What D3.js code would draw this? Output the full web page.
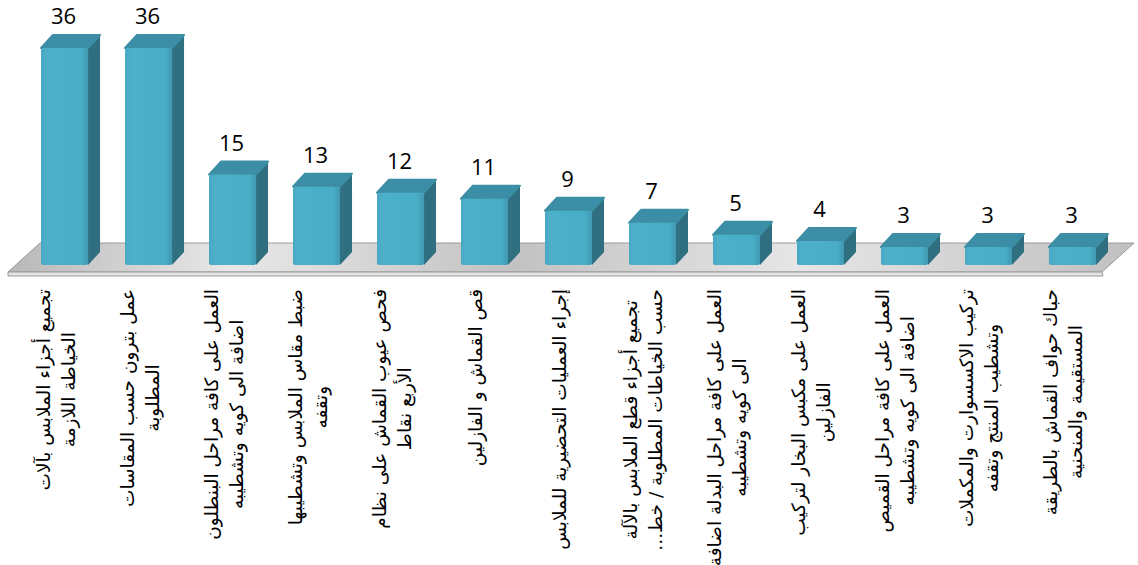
<!DOCTYPE html>
<html>
<head>
<meta charset="utf-8">
<script src="https://cdnjs.cloudflare.com/ajax/libs/d3/7.8.5/d3.min.js"></script>
<style>
  body { margin: 0; background: #fff; }
  svg { display: block; }
</style>
</head>
<body>
<svg width="1138" height="565"></svg>
<script>
const svg = d3.select('svg');
const width = +svg.attr('width');
const height = +svg.attr('height');

// data
const categories = [
  'تجميع أجزاء الملابس بآلات|الخياطة اللازمة',
  'عمل بترون حسب المقاسات|المطلوبة',
  'العمل على كافة مراحل البنطلون|اضافة الى كويه وتشطيبه',
  'ضبط مقاس الملابس وتشطيبها|وتقفه',
  'فحص عيوب القماش على نظام|الأربع نقاط',
  'قص القماش و الفازلين',
  'إجراء العمليات التحضيرية للملابس',
  'تجميع أجزاء قطع الملابس بالآلة|حسب الخياطات المطلوبة / خط...',
  'العمل على كافة مراحل البدلة اضافة|الى كويه وتشطيبه',
  'العمل على مكبس البخار لتركيب|الفازلين',
  'العمل على كافة مراحل القميص|اضافة الى كويه وتشطيبه',
  'تركيب الاكسسوارت والمكملات|وتشطيب المنتج وتقفه',
  'حباك حواف القماش بالطريقة|المستقيمة والمنحنية'
];
const values = [36, 36, 15, 13, 12, 11, 9, 7, 5, 4, 3, 3, 3];

// 3d depth of bars and floor
const dx = 12, dy = -13;
const floorDx = 32, floorDy = -29;
const base = 265;

const x = d3.scaleBand()
  .domain(d3.range(values.length))
  .range([41, 1096])
  .paddingInner(0.44)
  .paddingOuter(0);

const y = d3.scaleLinear()
  .domain([0, 36])
  .range([base, 48]);

const defs = svg.append('defs');

const floorGrad = defs.append('linearGradient')
  .attr('id', 'floorGrad')
  .attr('x1', 0).attr('y1', 0).attr('x2', 1).attr('y2', 0);
[[0, '#b8b8b8'], [0.2, '#e8e8e8'], [0.45, '#c2c2c2'], [0.7, '#e6e6e6'], [1, '#c0c0c0']]
  .forEach(s => floorGrad.append('stop').attr('offset', s[0]).attr('stop-color', s[1]));

const frontGrad = defs.append('linearGradient')
  .attr('id', 'frontGrad')
  .attr('x1', 0).attr('y1', 0).attr('x2', 1).attr('y2', 0);
[[0, '#4aa9c2'], [0.15, '#4db0ca'], [0.85, '#4aadc7'], [1, '#3f98b0']]
  .forEach(s => frontGrad.append('stop').attr('offset', s[0]).attr('stop-color', s[1]));

// floor
const fx0 = x.range()[0] - 33;
const fx1 = x.range()[1] + 6;
const fy = 272;

svg.append('polygon')
  .attr('points', [
    [fx0, fy], [fx1, fy], [fx1 + floorDx, fy + floorDy], [fx0 + floorDx, fy + floorDy]
  ].map(p => p.join(',')).join(' '))
  .attr('fill', 'url(#floorGrad)')
  .attr('stroke', '#9a9a9a')
  .attr('stroke-width', 1);

svg.append('polygon')
  .attr('points', [
    [fx0, fy], [fx1, fy], [fx1 + 1, fy + 4], [fx0, fy + 4]
  ].map(p => p.join(',')).join(' '))
  .attr('fill', '#e4e4e4')
  .attr('stroke', '#9a9a9a')
  .attr('stroke-width', 1);

// bars
const bars = svg.append('g').selectAll('g')
  .data(values)
  .enter().append('g');

// side face
bars.append('polygon')
  .attr('points', (d, i) => {
    const x1 = x(i) + x.bandwidth();
    return [[x1, y(d)], [x1 + dx, y(d) + dy], [x1 + dx, base + dy], [x1, base]]
      .map(p => p.join(',')).join(' ');
  })
  .attr('fill', '#2f6f80');

// top face
bars.append('polygon')
  .attr('points', (d, i) => {
    const x0 = x(i), x1 = x(i) + x.bandwidth();
    return [[x0, y(d)], [x1, y(d)], [x1 + dx, y(d) + dy], [x0 + dx, y(d) + dy]]
      .map(p => p.join(',')).join(' ');
  })
  .attr('fill', '#3b8ea5')
  .attr('stroke', '#3b8ea5')
  .attr('stroke-linejoin', 'round')
  .attr('stroke-width', 2);

// front face
bars.append('rect')
  .attr('x', (d, i) => x(i))
  .attr('y', d => y(d))
  .attr('width', x.bandwidth())
  .attr('height', d => base - y(d))
  .attr('rx', 2)
  .attr('fill', 'url(#frontGrad)');

// value labels
svg.append('g').selectAll('text')
  .data(values)
  .enter().append('text')
  .attr('x', (d, i) => x(i) + x.bandwidth() / 2 - 1)
  .attr('y', d => y(d) + dy - 11)
  .attr('text-anchor', 'middle')
  .style('font-family', 'Open Sans, sans-serif')
  .style('font-size', '22px')
  .style('fill', '#000')
  .text(d => d);

// category labels, rotated
const labelTop = 289;
const lineGap = 25;

categories.forEach((c, i) => {
  const lines = c.split('|');
  const g = svg.append('g');
  const cx = x(i) + x.bandwidth() / 2 - 9;
  const texts = lines.map((t, j) => g.append('text')
    .attr('text-anchor', 'middle')
    .attr('dominant-baseline', 'central')
    .attr('direction', 'rtl')
    .style('font-family', 'DejaVu Sans, sans-serif')
    .style('font-size', '18.5px')
    .style('fill', '#000')
    .text(t + '\u200F'));
  const maxLen = d3.max(texts, t => t.node().getComputedTextLength());
  const cy = labelTop + maxLen / 2;
  texts.forEach((t, j) => {
    const off = (j - (lines.length - 1) / 2) * lineGap;
    t.attr('transform', `translate(${cx + off},${cy}) rotate(-90)`);
  });
});
</script>
</body>
</html>
